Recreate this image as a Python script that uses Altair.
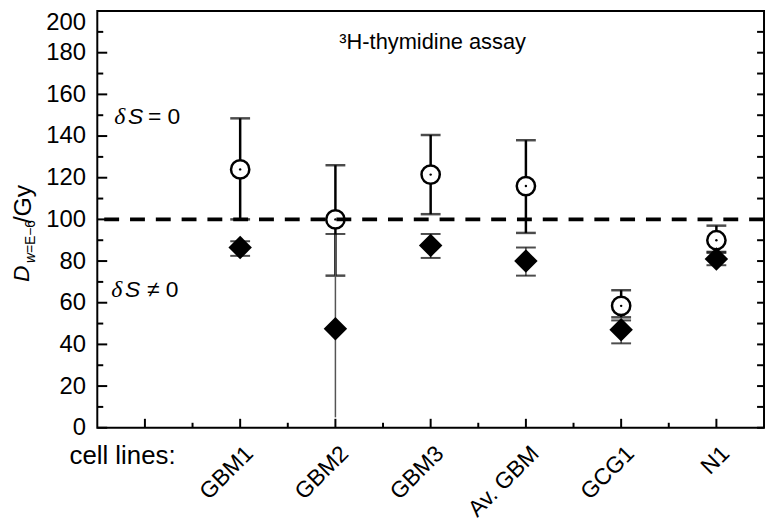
import altair as alt
import pandas as pd

# ---- data ----
cells = ["GBM1", "GBM2", "GBM3", "Av. GBM", "GCG1", "N1"]
circ = [124, 100, 121.5, 116, 58.5, 90]          # deltaS = 0 (open circles)
circ_lo = [100, 73, 102.5, 93.5, 53, 84]
circ_hi = [148.5, 126, 140.5, 138, 66, 97]
diam = [86.5, 47.5, 87.5, 80, 47, 81]            # deltaS != 0 (filled diamonds)
diam_lo = [82.5, 5, 81.5, 73, 40.5, 78]
diam_hi = [89.5, 93, 93, 86.5, 51.5, 84.5]
diam_lo_cap = [1, 0, 1, 1, 1, 1]
ref_level = [100]
y_labels = list(range(0, 201, 20))

W, H = 672, 420
FONT = "Liberation Sans"

df = pd.DataFrame({
    "idx": list(range(1, len(cells) + 1)),
    "cell": cells,
    "circ": circ, "circ_lo": circ_lo, "circ_hi": circ_hi,
    "diam": diam, "diam_lo": diam_lo, "diam_hi": diam_hi,
    "lo_cap": diam_lo_cap,
})

xs = alt.Scale(domain=[-0.5, len(cells) + 0.5], nice=False, zero=False)
ys = alt.Scale(domain=[0, 200], nice=False, zero=False)

label_js = "[" + ",".join("'" + c + "'" for c in cells) + "]"
x_axis = alt.Axis(
    values=list(range(1, len(cells) + 1)),
    labelExpr=label_js + "[datum.value - 1]",
    title=None,
    labelAngle=315, labelAlign="right", labelBaseline="middle",
    labelPadding=22, labelOffset=9, labelFontSize=23, labelFont=FONT,
    labelColor="black", labelFlush=False, labelOverlap=False,
    ticks=False, domain=False, grid=False,
)
y_axis = alt.Axis(
    values=y_labels, title=None,
    ticks=False, domain=False, grid=False,
    labelFontSize=24, labelFont=FONT, labelColor="black", labelPadding=12,
    labelFlush=False,
    labelBaseline={"condition": {"test": "datum.value == 200", "value": "top"}, "value": "middle"},
)

def XQ(f):
    return alt.X(f, scale=xs, axis=x_axis)

def YQ(f):
    return alt.Y(f, scale=ys, axis=y_axis)

base = alt.Chart(df)

circles = base.mark_point(shape="circle", filled=True, fill="white", stroke="black",
                          strokeWidth=2.5, size=340, opacity=1).encode(
    x=XQ("idx:Q"), y=YQ("circ:Q"))
circ_err = base.mark_rule(color="black", strokeWidth=2.5).encode(
    x=XQ("idx:Q"), y=YQ("circ_lo:Q"), y2="circ_hi:Q")
circ_cap_hi = base.mark_tick(orient="horizontal", size=20, thickness=2.5, color="black").encode(
    x=XQ("idx:Q"), y=YQ("circ_hi:Q"))
circ_cap_lo = base.mark_tick(orient="horizontal", size=20, thickness=2.5, color="black").encode(
    x=XQ("idx:Q"), y=YQ("circ_lo:Q"))
dots = base.mark_point(shape="circle", filled=True, color="black", size=6, opacity=1).encode(
    x=XQ("idx:Q"), y=YQ("circ:Q"))

diam_err = base.mark_rule(color="#555555", strokeWidth=1.5).encode(
    x=XQ("idx:Q"), y=YQ("diam_lo:Q"), y2="diam_hi:Q")
diam_cap_hi = base.mark_tick(orient="horizontal", size=20, thickness=2, color="black").encode(
    x=XQ("idx:Q"), y=YQ("diam_hi:Q"))
diam_cap_lo = base.transform_filter("datum.lo_cap == 1").mark_tick(
    orient="horizontal", size=20, thickness=2, color="black").encode(
    x=XQ("idx:Q"), y=YQ("diam_lo:Q"))
diamonds = base.mark_point(shape="diamond", filled=True, color="black", size=560, opacity=1).encode(
    x=XQ("idx:Q"), y=YQ("diam:Q"))

ref = alt.Chart(pd.DataFrame({"v": ref_level})).mark_rule(
    color="black", strokeWidth=4, strokeDash=[15, 11]).encode(y=YQ("v:Q"))

# inward frame ticks
ymaj = pd.DataFrame({"v": list(range(0, 201, 20))})
ymin = pd.DataFrame({"v": list(range(10, 200, 20))})
yall = pd.DataFrame({"v": list(range(0, 201, 10))})
xmaj = pd.DataFrame({"v": [float(i) for i in range(0, len(cells) + 1)]})
xmin = pd.DataFrame({"v": [i + 0.5 for i in range(0, len(cells))]})

def yticks(d, x1, x2):
    return alt.Chart(d).mark_rule(color="black", strokeWidth=2).encode(
        y=YQ("v:Q"), x=alt.value(x1), x2=alt.value(x2))

def xticks(d, ln):
    return alt.Chart(d).mark_rule(color="black", strokeWidth=2).encode(
        x=XQ("v:Q"), y=alt.value(H), y2=alt.value(H - ln))

ticks = [yticks(ymaj, 0, 10), yticks(ymin, 0, 6), yticks(yall, W, W - 7),
         xticks(xmaj, 9), xticks(xmin, 5)]

one = alt.Chart(pd.DataFrame({"a": [0]}))

def txt(s, x, y, size=22, style="normal", font=FONT, align="left", baseline="middle", angle=0):
    kw = dict(text=s, fontSize=size, font=font, fontStyle=style, align=align,
              baseline=baseline, color="black")
    if angle:
        kw["angle"] = angle
    return one.mark_text(**kw).encode(x=alt.value(x), y=alt.value(y))

annots = [
    txt("\u00b3H-thymidine assay", 338, 31, size=22, align="center"),
    txt("\u03b4", 17, 107, size=24, style="italic", font="Liberation Serif"),
    txt("S", 31, 107, size=23, style="italic"),
    txt("= 0", 51, 107, size=23),
    txt("\u03b4", 14, 281, size=24, style="italic", font="Liberation Serif"),
    txt("S", 28, 281, size=23, style="italic"),
    txt("\u2260 0", 50, 281, size=23),
    txt("cell lines:", -28, 449, size=26),
    # y-axis title: D_{w=E-6}/Gy
    txt("D", -69, 273, size=23, style="italic", baseline="alphabetic", angle=270),
    txt("w", -63, 254, size=14, style="italic", baseline="alphabetic", angle=270),
    txt("=E\u22126", -63, 244, size=14, baseline="alphabetic", angle=270),
    txt("/Gy", -67, 214, size=25, baseline="alphabetic", angle=270),
]

chart = alt.layer(
    circ_err, circ_cap_hi, circ_cap_lo, circles, dots,
    diam_err, diam_cap_hi, diam_cap_lo, diamonds,
    ref, *ticks, *annots,
).properties(
    width=W, height=H,
    autosize=alt.AutoSizeParams(type="none"),
    padding={"left": 90, "top": 1, "right": 2, "bottom": 100},
    background="white",
).configure_view(stroke="black", strokeWidth=2)

chart.save("out.html", embed_options={"renderer": "svg", "actions": False})
